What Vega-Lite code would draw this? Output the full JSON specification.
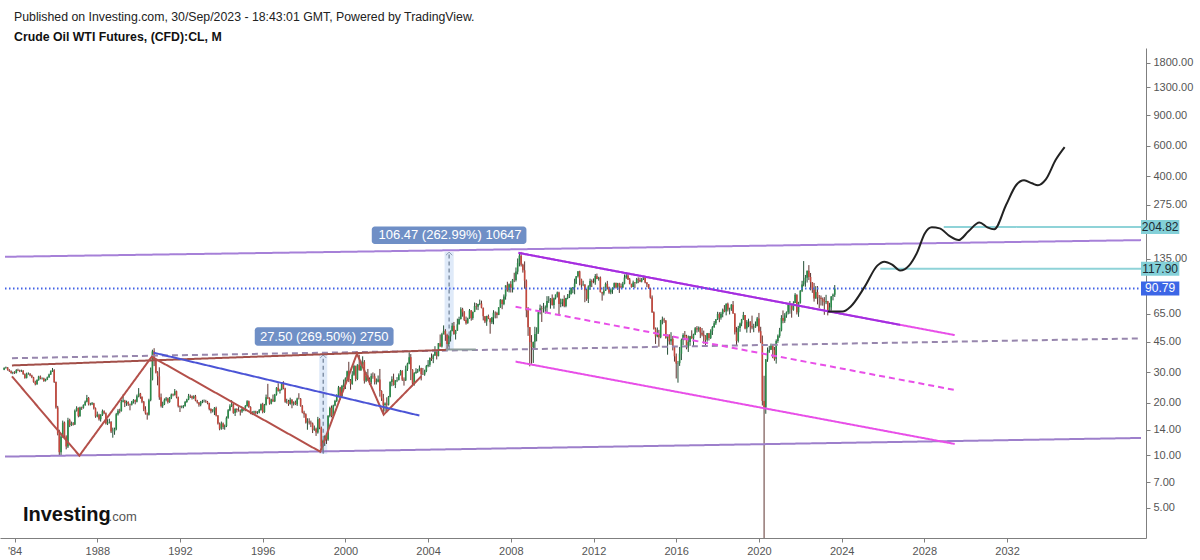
{
"$schema":"https://vega.github.io/schema/vega-lite/v6.json",
"width":1146,"height":490,
"autosize":{"type":"none"},
"padding":{"left":0,"top":48,"right":54,"bottom":22},
"background":"white",
"title":{"text":"Published on Investing.com, 30/Sep/2023 - 18:43:01 GMT, Powered by TradingView.","subtitle":"Crude Oil WTI Futures, (CFD):CL, M","anchor":"start","frame":"group","dx":14,"fontSize":12.3,"fontWeight":"normal","font":"Liberation Sans","color":"#222","subtitleFont":"Liberation Sans","subtitleFontSize":12.3,"subtitleFontWeight":"bold","subtitleColor":"#111","subtitlePadding":7,"offset":5},
"config":{"font":"Liberation Sans","view":{"stroke":null},"axis":{"title":null,"grid":false,"domainColor":"#7f7f7f","tickColor":"#7f7f7f","labelColor":"#555","labelFontSize":11,"tickSize":4}},
"datasets":{
"candles":[
{"d":"1983-07","o":31.0,"h":32.0,"l":30.8,"c":31.7},{"d":"1983-08","o":31.7,"h":32.3,"l":31.4,"c":31.9},{"d":"1983-09","o":31.9,"h":32.1,"l":30.6,"c":30.9},{"d":"1983-10","o":30.9,"h":31.2,"l":30.1,"c":30.4},{"d":"1983-11","o":30.4,"h":30.7,"l":29.4,"c":29.7},{"d":"1983-12","o":29.7,"h":30.2,"l":29.2,"c":29.9},
{"d":"1984-01","o":29.9,"h":30.4,"l":29.3,"c":29.7},{"d":"1984-02","o":29.7,"h":31.2,"l":29.5,"c":30.9},{"d":"1984-03","o":30.9,"h":31.4,"l":30.4,"c":30.7},{"d":"1984-04","o":30.7,"h":31.0,"l":30.0,"c":30.4},{"d":"1984-05","o":30.4,"h":31.0,"l":30.1,"c":30.6},{"d":"1984-06","o":30.6,"h":30.8,"l":29.0,"c":29.2},{"d":"1984-07","o":29.2,"h":29.5,"l":27.5,"c":27.8},{"d":"1984-08","o":27.8,"h":29.8,"l":27.6,"c":29.4},{"d":"1984-09","o":29.4,"h":29.9,"l":29.0,"c":29.4},{"d":"1984-10","o":29.4,"h":29.6,"l":28.4,"c":28.7},{"d":"1984-11","o":28.7,"h":29.0,"l":27.7,"c":28.0},{"d":"1984-12","o":28.0,"h":28.2,"l":26.1,"c":26.4},
{"d":"1985-01","o":26.4,"h":26.8,"l":25.2,"c":25.6},{"d":"1985-02","o":25.6,"h":27.3,"l":25.4,"c":27.0},{"d":"1985-03","o":27.0,"h":28.6,"l":26.8,"c":28.3},{"d":"1985-04","o":28.3,"h":28.7,"l":27.3,"c":27.6},{"d":"1985-05","o":27.6,"h":28.0,"l":27.2,"c":27.7},{"d":"1985-06","o":27.7,"h":27.9,"l":26.4,"c":26.7},{"d":"1985-07","o":26.7,"h":27.5,"l":26.5,"c":27.2},{"d":"1985-08","o":27.2,"h":28.3,"l":27.0,"c":28.0},{"d":"1985-09","o":28.0,"h":29.4,"l":27.8,"c":29.1},{"d":"1985-10","o":29.1,"h":30.7,"l":28.9,"c":30.4},{"d":"1985-11","o":30.4,"h":31.7,"l":30.1,"c":30.8},{"d":"1985-12","o":30.8,"h":31.2,"l":26.0,"c":26.3},
{"d":"1986-01","o":26.3,"h":26.5,"l":18.5,"c":18.8},{"d":"1986-02","o":18.8,"h":19.2,"l":13.0,"c":13.3},{"d":"1986-03","o":13.3,"h":14.0,"l":9.9,"c":10.4},{"d":"1986-04","o":10.4,"h":13.3,"l":10.0,"c":12.8},{"d":"1986-05","o":12.8,"h":15.8,"l":12.6,"c":15.4},{"d":"1986-06","o":15.4,"h":15.6,"l":12.5,"c":12.8},{"d":"1986-07","o":12.8,"h":13.0,"l":10.8,"c":11.2},{"d":"1986-08","o":11.2,"h":16.4,"l":11.0,"c":15.9},{"d":"1986-09","o":15.9,"h":16.2,"l":14.5,"c":14.9},{"d":"1986-10","o":14.9,"h":15.6,"l":14.7,"c":15.2},{"d":"1986-11","o":15.2,"h":15.5,"l":14.8,"c":15.0},{"d":"1986-12","o":15.0,"h":18.3,"l":14.9,"c":18.0},
{"d":"1987-01","o":18.0,"h":19.1,"l":17.8,"c":18.7},{"d":"1987-02","o":18.7,"h":18.8,"l":16.5,"c":16.8},{"d":"1987-03","o":16.8,"h":19.0,"l":16.6,"c":18.8},{"d":"1987-04","o":18.8,"h":19.0,"l":18.2,"c":18.7},{"d":"1987-05","o":18.7,"h":19.6,"l":18.5,"c":19.4},{"d":"1987-06","o":19.4,"h":20.6,"l":19.2,"c":20.3},{"d":"1987-07","o":20.3,"h":22.2,"l":20.1,"c":21.3},{"d":"1987-08","o":21.3,"h":21.6,"l":19.3,"c":19.6},{"d":"1987-09","o":19.6,"h":20.0,"l":19.3,"c":19.6},{"d":"1987-10","o":19.6,"h":20.2,"l":19.4,"c":19.9},{"d":"1987-11","o":19.9,"h":20.0,"l":18.3,"c":18.6},{"d":"1987-12","o":18.6,"h":18.8,"l":16.4,"c":16.7},
{"d":"1988-01","o":16.7,"h":17.8,"l":16.5,"c":17.1},{"d":"1988-02","o":17.1,"h":17.3,"l":15.8,"c":16.1},{"d":"1988-03","o":16.1,"h":17.2,"l":15.6,"c":17.0},{"d":"1988-04","o":17.0,"h":18.3,"l":16.8,"c":17.9},{"d":"1988-05","o":17.9,"h":18.1,"l":17.2,"c":17.4},{"d":"1988-06","o":17.4,"h":17.6,"l":15.0,"c":15.2},{"d":"1988-07","o":15.2,"h":16.1,"l":14.9,"c":15.5},{"d":"1988-08","o":15.5,"h":16.2,"l":15.2,"c":15.5},{"d":"1988-09","o":15.5,"h":15.7,"l":13.4,"c":13.7},{"d":"1988-10","o":13.7,"h":14.4,"l":12.6,"c":13.7},{"d":"1988-11","o":13.7,"h":14.4,"l":13.1,"c":14.1},{"d":"1988-12","o":14.1,"h":17.5,"l":13.9,"c":17.2},
{"d":"1989-01","o":17.2,"h":18.4,"l":16.9,"c":18.0},{"d":"1989-02","o":18.0,"h":18.5,"l":17.4,"c":17.9},{"d":"1989-03","o":17.9,"h":20.8,"l":17.8,"c":20.3},{"d":"1989-04","o":20.3,"h":22.3,"l":20.1,"c":20.6},{"d":"1989-05","o":20.6,"h":20.8,"l":18.9,"c":19.9},{"d":"1989-06","o":19.9,"h":20.6,"l":19.2,"c":20.2},{"d":"1989-07","o":20.2,"h":20.4,"l":19.2,"c":19.6},{"d":"1989-08","o":19.6,"h":19.8,"l":18.1,"c":19.5},{"d":"1989-09","o":19.5,"h":20.5,"l":19.3,"c":20.3},{"d":"1989-10","o":20.3,"h":21.0,"l":19.8,"c":20.7},{"d":"1989-11","o":20.7,"h":20.9,"l":19.6,"c":20.3},{"d":"1989-12","o":20.3,"h":22.3,"l":20.1,"c":21.8},
{"d":"1990-01","o":21.8,"h":24.3,"l":21.5,"c":22.6},{"d":"1990-02","o":22.6,"h":22.8,"l":21.1,"c":21.6},{"d":"1990-03","o":21.6,"h":21.8,"l":19.9,"c":20.3},{"d":"1990-04","o":20.3,"h":20.5,"l":17.9,"c":18.3},{"d":"1990-05","o":18.3,"h":19.1,"l":17.1,"c":17.4},{"d":"1990-06","o":17.4,"h":17.6,"l":16.0,"c":17.1},{"d":"1990-07","o":17.1,"h":21.1,"l":16.9,"c":20.7},{"d":"1990-08","o":20.7,"h":31.9,"l":20.4,"c":27.2},{"d":"1990-09","o":27.2,"h":40.4,"l":26.9,"c":39.5},{"d":"1990-10","o":39.5,"h":41.2,"l":32.5,"c":35.2},{"d":"1990-11","o":35.2,"h":35.6,"l":29.5,"c":29.9},{"d":"1990-12","o":29.9,"h":30.4,"l":25.2,"c":28.4},
{"d":"1991-01","o":28.4,"h":32.0,"l":20.8,"c":21.5},{"d":"1991-02","o":21.5,"h":22.6,"l":18.8,"c":19.2},{"d":"1991-03","o":19.2,"h":20.3,"l":18.7,"c":19.6},{"d":"1991-04","o":19.6,"h":21.2,"l":19.4,"c":20.8},{"d":"1991-05","o":20.8,"h":21.6,"l":20.4,"c":21.2},{"d":"1991-06","o":21.2,"h":21.4,"l":19.8,"c":20.2},{"d":"1991-07","o":20.2,"h":21.6,"l":20.0,"c":21.4},{"d":"1991-08","o":21.4,"h":22.6,"l":21.0,"c":22.3},{"d":"1991-09","o":22.3,"h":22.6,"l":21.8,"c":22.2},{"d":"1991-10","o":22.2,"h":24.0,"l":22.0,"c":23.3},{"d":"1991-11","o":23.3,"h":23.5,"l":21.2,"c":21.5},{"d":"1991-12","o":21.5,"h":21.7,"l":18.8,"c":19.1},
{"d":"1992-01","o":19.1,"h":19.3,"l":17.7,"c":18.9},{"d":"1992-02","o":18.9,"h":19.3,"l":18.6,"c":19.0},{"d":"1992-03","o":19.0,"h":19.4,"l":18.6,"c":19.2},{"d":"1992-04","o":19.2,"h":20.5,"l":19.0,"c":20.2},{"d":"1992-05","o":20.2,"h":21.1,"l":20.0,"c":20.9},{"d":"1992-06","o":20.9,"h":22.5,"l":20.7,"c":21.9},{"d":"1992-07","o":21.9,"h":22.3,"l":21.3,"c":21.8},{"d":"1992-08","o":21.8,"h":22.0,"l":20.9,"c":21.3},{"d":"1992-09","o":21.3,"h":22.1,"l":21.0,"c":21.8},{"d":"1992-10","o":21.8,"h":22.2,"l":20.4,"c":20.6},{"d":"1992-11","o":20.6,"h":20.8,"l":19.8,"c":20.1},{"d":"1992-12","o":20.1,"h":20.2,"l":19.0,"c":19.5},
{"d":"1993-01","o":19.5,"h":20.5,"l":19.1,"c":20.3},{"d":"1993-02","o":20.3,"h":20.8,"l":19.9,"c":20.4},{"d":"1993-03","o":20.4,"h":20.9,"l":20.1,"c":20.4},{"d":"1993-04","o":20.4,"h":20.8,"l":20.0,"c":20.3},{"d":"1993-05","o":20.3,"h":20.5,"l":19.6,"c":19.9},{"d":"1993-06","o":19.9,"h":20.0,"l":18.1,"c":18.4},{"d":"1993-07","o":18.4,"h":18.6,"l":17.4,"c":17.9},{"d":"1993-08","o":17.9,"h":18.4,"l":17.6,"c":18.0},{"d":"1993-09","o":18.0,"h":18.9,"l":17.0,"c":18.7},{"d":"1993-10","o":18.7,"h":19.0,"l":16.7,"c":16.9},{"d":"1993-11","o":16.9,"h":17.0,"l":15.0,"c":15.2},{"d":"1993-12","o":15.2,"h":15.4,"l":13.9,"c":14.2},
{"d":"1994-01","o":14.2,"h":15.6,"l":14.0,"c":15.2},{"d":"1994-02","o":15.2,"h":15.4,"l":14.1,"c":14.5},{"d":"1994-03","o":14.5,"h":15.0,"l":14.0,"c":14.7},{"d":"1994-04","o":14.7,"h":16.7,"l":14.5,"c":16.4},{"d":"1994-05","o":16.4,"h":18.4,"l":16.2,"c":18.1},{"d":"1994-06","o":18.1,"h":19.6,"l":17.9,"c":19.1},{"d":"1994-07","o":19.1,"h":20.7,"l":18.9,"c":19.6},{"d":"1994-08","o":19.6,"h":19.8,"l":17.3,"c":17.5},{"d":"1994-09","o":17.5,"h":18.6,"l":16.8,"c":18.4},{"d":"1994-10","o":18.4,"h":18.6,"l":17.6,"c":18.2},{"d":"1994-11","o":18.2,"h":18.9,"l":17.8,"c":18.1},{"d":"1994-12","o":18.1,"h":18.3,"l":16.9,"c":17.8},
{"d":"1995-01","o":17.8,"h":18.8,"l":17.5,"c":18.4},{"d":"1995-02","o":18.4,"h":18.7,"l":17.9,"c":18.5},{"d":"1995-03","o":18.5,"h":19.4,"l":17.9,"c":19.2},{"d":"1995-04","o":19.2,"h":20.7,"l":19.0,"c":20.4},{"d":"1995-05","o":20.4,"h":20.6,"l":18.7,"c":18.9},{"d":"1995-06","o":18.9,"h":19.1,"l":17.2,"c":17.4},{"d":"1995-07","o":17.4,"h":17.9,"l":17.0,"c":17.6},{"d":"1995-08","o":17.6,"h":18.0,"l":17.2,"c":17.8},{"d":"1995-09","o":17.8,"h":18.0,"l":17.2,"c":17.5},{"d":"1995-10","o":17.5,"h":17.9,"l":17.2,"c":17.6},{"d":"1995-11","o":17.6,"h":18.4,"l":17.4,"c":18.2},{"d":"1995-12","o":18.2,"h":19.8,"l":18.0,"c":19.6},
{"d":"1996-01","o":19.6,"h":20.0,"l":17.4,"c":17.7},{"d":"1996-02","o":17.7,"h":19.7,"l":17.5,"c":19.5},{"d":"1996-03","o":19.5,"h":22.3,"l":19.3,"c":21.5},{"d":"1996-04","o":21.5,"h":25.7,"l":21.0,"c":21.2},{"d":"1996-05","o":21.2,"h":21.5,"l":19.5,"c":19.8},{"d":"1996-06","o":19.8,"h":21.1,"l":19.6,"c":20.9},{"d":"1996-07","o":20.9,"h":22.3,"l":20.2,"c":20.4},{"d":"1996-08","o":20.4,"h":22.5,"l":20.2,"c":22.3},{"d":"1996-09","o":22.3,"h":24.6,"l":22.0,"c":24.4},{"d":"1996-10","o":24.4,"h":25.9,"l":23.2,"c":23.4},{"d":"1996-11","o":23.4,"h":24.1,"l":22.6,"c":23.8},{"d":"1996-12","o":23.8,"h":26.1,"l":23.6,"c":25.9},
{"d":"1997-01","o":25.9,"h":26.6,"l":23.9,"c":24.2},{"d":"1997-02","o":24.2,"h":24.4,"l":20.0,"c":20.3},{"d":"1997-03","o":20.3,"h":21.1,"l":19.8,"c":20.4},{"d":"1997-04","o":20.4,"h":20.8,"l":19.2,"c":19.7},{"d":"1997-05","o":19.7,"h":21.4,"l":19.5,"c":20.8},{"d":"1997-06","o":20.8,"h":21.0,"l":18.6,"c":19.8},{"d":"1997-07","o":19.8,"h":20.4,"l":19.3,"c":20.1},{"d":"1997-08","o":20.1,"h":20.6,"l":19.4,"c":19.6},{"d":"1997-09","o":19.6,"h":21.4,"l":19.2,"c":21.2},{"d":"1997-10","o":21.2,"h":22.7,"l":20.9,"c":21.1},{"d":"1997-11","o":21.1,"h":21.3,"l":19.0,"c":19.2},{"d":"1997-12","o":19.2,"h":19.4,"l":17.4,"c":17.6},
{"d":"1998-01","o":17.6,"h":18.0,"l":16.4,"c":17.2},{"d":"1998-02","o":17.2,"h":17.4,"l":15.2,"c":15.4},{"d":"1998-03","o":15.4,"h":16.3,"l":14.0,"c":15.6},{"d":"1998-04","o":15.6,"h":16.3,"l":15.0,"c":15.4},{"d":"1998-05","o":15.4,"h":15.8,"l":14.5,"c":15.2},{"d":"1998-06","o":15.2,"h":15.4,"l":13.4,"c":14.0},{"d":"1998-07","o":14.0,"h":14.8,"l":13.8,"c":14.2},{"d":"1998-08","o":14.2,"h":14.4,"l":12.9,"c":13.5},{"d":"1998-09","o":13.5,"h":16.6,"l":13.3,"c":16.1},{"d":"1998-10","o":16.1,"h":16.3,"l":14.1,"c":14.4},{"d":"1998-11","o":14.4,"h":14.6,"l":10.9,"c":11.2},{"d":"1998-12","o":11.2,"h":12.3,"l":10.4,"c":12.1},
{"d":"1999-01","o":12.1,"h":13.0,"l":11.3,"c":12.8},{"d":"1999-02","o":12.8,"h":12.9,"l":11.6,"c":12.3},{"d":"1999-03","o":12.3,"h":17.0,"l":12.1,"c":16.8},{"d":"1999-04","o":16.8,"h":19.0,"l":16.5,"c":18.7},{"d":"1999-05","o":18.7,"h":19.3,"l":16.5,"c":16.8},{"d":"1999-06","o":16.8,"h":19.5,"l":16.6,"c":19.3},{"d":"1999-07","o":19.3,"h":20.8,"l":19.1,"c":20.5},{"d":"1999-08","o":20.5,"h":22.4,"l":20.2,"c":22.1},{"d":"1999-09","o":22.1,"h":25.0,"l":21.9,"c":24.5},{"d":"1999-10","o":24.5,"h":24.7,"l":20.8,"c":21.8},{"d":"1999-11","o":21.8,"h":25.3,"l":21.6,"c":25.0},{"d":"1999-12","o":25.0,"h":27.2,"l":24.6,"c":25.6},
{"d":"2000-01","o":25.6,"h":28.0,"l":24.0,"c":27.6},{"d":"2000-02","o":27.6,"h":30.6,"l":27.4,"c":30.4},{"d":"2000-03","o":30.4,"h":34.4,"l":26.3,"c":26.9},{"d":"2000-04","o":26.9,"h":27.4,"l":23.8,"c":25.7},{"d":"2000-05","o":25.7,"h":30.4,"l":25.4,"c":29.0},{"d":"2000-06","o":29.0,"h":33.1,"l":28.6,"c":32.5},{"d":"2000-07","o":32.5,"h":32.7,"l":26.6,"c":27.4},{"d":"2000-08","o":27.4,"h":33.3,"l":27.0,"c":33.1},{"d":"2000-09","o":33.1,"h":37.8,"l":30.6,"c":30.8},{"d":"2000-10","o":30.8,"h":35.0,"l":30.5,"c":32.7},{"d":"2000-11","o":32.7,"h":37.0,"l":32.4,"c":34.4},{"d":"2000-12","o":34.4,"h":35.2,"l":25.8,"c":26.8},
{"d":"2001-01","o":26.8,"h":30.1,"l":26.3,"c":28.7},{"d":"2001-02","o":28.7,"h":31.3,"l":26.7,"c":27.4},{"d":"2001-03","o":27.4,"h":28.0,"l":25.4,"c":26.3},{"d":"2001-04","o":26.3,"h":29.5,"l":25.5,"c":28.5},{"d":"2001-05","o":28.5,"h":29.9,"l":27.5,"c":28.4},{"d":"2001-06","o":28.4,"h":29.5,"l":25.5,"c":26.3},{"d":"2001-07","o":26.3,"h":27.6,"l":25.5,"c":26.4},{"d":"2001-08","o":26.4,"h":28.7,"l":26.2,"c":27.2},{"d":"2001-09","o":27.2,"h":31.3,"l":21.7,"c":23.4},{"d":"2001-10","o":23.4,"h":23.6,"l":20.5,"c":21.2},{"d":"2001-11","o":21.2,"h":22.5,"l":17.5,"c":19.4},{"d":"2001-12","o":19.4,"h":20.1,"l":17.8,"c":19.8},
{"d":"2002-01","o":19.8,"h":21.5,"l":17.9,"c":19.5},{"d":"2002-02","o":19.5,"h":21.9,"l":19.3,"c":21.7},{"d":"2002-03","o":21.7,"h":26.6,"l":21.5,"c":26.3},{"d":"2002-04","o":26.3,"h":28.4,"l":24.9,"c":27.3},{"d":"2002-05","o":27.3,"h":29.4,"l":25.1,"c":25.3},{"d":"2002-06","o":25.3,"h":27.0,"l":24.3,"c":26.9},{"d":"2002-07","o":26.9,"h":28.1,"l":26.3,"c":27.0},{"d":"2002-08","o":27.0,"h":29.5,"l":26.9,"c":28.9},{"d":"2002-09","o":28.9,"h":30.9,"l":28.7,"c":30.5},{"d":"2002-10","o":30.5,"h":30.8,"l":26.7,"c":27.2},{"d":"2002-11","o":27.2,"h":28.0,"l":25.1,"c":26.9},{"d":"2002-12","o":26.9,"h":32.7,"l":26.7,"c":31.2},
{"d":"2003-01","o":31.2,"h":34.0,"l":30.5,"c":33.5},{"d":"2003-02","o":33.5,"h":39.0,"l":33.3,"c":36.6},{"d":"2003-03","o":36.6,"h":38.1,"l":27.0,"c":31.0},{"d":"2003-04","o":31.0,"h":31.2,"l":24.9,"c":25.8},{"d":"2003-05","o":25.8,"h":30.0,"l":25.1,"c":29.6},{"d":"2003-06","o":29.6,"h":31.6,"l":29.4,"c":30.2},{"d":"2003-07","o":30.2,"h":31.3,"l":29.7,"c":30.5},{"d":"2003-08","o":30.5,"h":32.8,"l":30.3,"c":31.6},{"d":"2003-09","o":31.6,"h":31.8,"l":26.9,"c":29.2},{"d":"2003-10","o":29.2,"h":31.7,"l":28.9,"c":29.1},{"d":"2003-11","o":29.1,"h":31.0,"l":28.6,"c":30.4},{"d":"2003-12","o":30.4,"h":33.0,"l":30.0,"c":32.5},
{"d":"2004-01","o":32.5,"h":35.2,"l":32.0,"c":33.1},{"d":"2004-02","o":33.1,"h":36.5,"l":32.2,"c":36.2},{"d":"2004-03","o":36.2,"h":38.4,"l":34.8,"c":35.8},{"d":"2004-04","o":35.8,"h":38.0,"l":33.8,"c":37.4},{"d":"2004-05","o":37.4,"h":42.3,"l":37.2,"c":39.9},{"d":"2004-06","o":39.9,"h":40.0,"l":35.5,"c":37.1},{"d":"2004-07","o":37.1,"h":44.1,"l":37.0,"c":44.0},{"d":"2004-08","o":44.0,"h":49.4,"l":42.0,"c":42.1},{"d":"2004-09","o":42.1,"h":50.5,"l":41.6,"c":49.6},{"d":"2004-10","o":49.6,"h":55.7,"l":49.4,"c":51.8},{"d":"2004-11","o":51.8,"h":53.0,"l":45.4,"c":49.1},{"d":"2004-12","o":49.1,"h":49.9,"l":40.3,"c":43.5},
{"d":"2005-01","o":43.5,"h":49.0,"l":42.1,"c":48.2},{"d":"2005-02","o":48.2,"h":52.1,"l":45.0,"c":51.8},{"d":"2005-03","o":51.8,"h":57.6,"l":51.5,"c":55.4},{"d":"2005-04","o":55.4,"h":58.3,"l":49.2,"c":49.7},{"d":"2005-05","o":49.7,"h":52.5,"l":46.2,"c":52.0},{"d":"2005-06","o":52.0,"h":60.9,"l":51.8,"c":56.5},{"d":"2005-07","o":56.5,"h":62.5,"l":56.3,"c":60.6},{"d":"2005-08","o":60.6,"h":70.8,"l":60.2,"c":68.9},{"d":"2005-09","o":68.9,"h":70.3,"l":62.5,"c":66.2},{"d":"2005-10","o":66.2,"h":67.3,"l":59.0,"c":59.8},{"d":"2005-11","o":59.8,"h":62.6,"l":56.3,"c":57.3},{"d":"2005-12","o":57.3,"h":61.7,"l":57.0,"c":61.0},
{"d":"2006-01","o":61.0,"h":69.2,"l":60.8,"c":67.9},{"d":"2006-02","o":67.9,"h":68.3,"l":59.3,"c":61.4},{"d":"2006-03","o":61.4,"h":67.0,"l":60.0,"c":66.6},{"d":"2006-04","o":66.6,"h":75.4,"l":66.4,"c":71.9},{"d":"2006-05","o":71.9,"h":74.9,"l":68.5,"c":71.3},{"d":"2006-06","o":71.3,"h":74.2,"l":68.2,"c":73.9},{"d":"2006-07","o":73.9,"h":78.4,"l":72.8,"c":74.4},{"d":"2006-08","o":74.4,"h":77.3,"l":69.8,"c":70.3},{"d":"2006-09","o":70.3,"h":70.5,"l":59.5,"c":62.9},{"d":"2006-10","o":62.9,"h":63.0,"l":57.4,"c":58.7},{"d":"2006-11","o":58.7,"h":63.3,"l":55.4,"c":63.1},{"d":"2006-12","o":63.1,"h":64.3,"l":60.5,"c":61.1},
{"d":"2007-01","o":61.1,"h":61.3,"l":49.9,"c":58.1},{"d":"2007-02","o":58.1,"h":62.3,"l":56.8,"c":61.8},{"d":"2007-03","o":61.8,"h":68.1,"l":56.5,"c":65.9},{"d":"2007-04","o":65.9,"h":67.0,"l":61.1,"c":65.7},{"d":"2007-05","o":65.7,"h":66.7,"l":61.2,"c":64.0},{"d":"2007-06","o":64.0,"h":70.9,"l":63.8,"c":70.7},{"d":"2007-07","o":70.7,"h":78.8,"l":70.3,"c":78.2},{"d":"2007-08","o":78.2,"h":78.5,"l":69.0,"c":74.0},{"d":"2007-09","o":74.0,"h":83.9,"l":72.8,"c":81.7},{"d":"2007-10","o":81.7,"h":94.7,"l":78.3,"c":94.5},{"d":"2007-11","o":94.5,"h":99.3,"l":87.0,"c":88.7},{"d":"2007-12","o":88.7,"h":97.0,"l":86.2,"c":96.0},
{"d":"2008-01","o":96.0,"h":100.1,"l":86.1,"c":91.8},{"d":"2008-02","o":91.8,"h":103.0,"l":86.1,"c":101.8},{"d":"2008-03","o":101.8,"h":111.8,"l":98.7,"c":101.6},{"d":"2008-04","o":101.6,"h":119.9,"l":99.6,"c":113.5},{"d":"2008-05","o":113.5,"h":135.1,"l":109.5,"c":127.4},{"d":"2008-06","o":127.4,"h":143.7,"l":121.6,"c":140.0},{"d":"2008-07","o":140.0,"h":147.3,"l":121.4,"c":124.1},{"d":"2008-08","o":124.1,"h":126.0,"l":112.0,"c":115.5},{"d":"2008-09","o":115.5,"h":130.0,"l":90.5,"c":100.6},{"d":"2008-10","o":100.6,"h":102.2,"l":62.0,"c":67.8},{"d":"2008-11","o":67.8,"h":71.0,"l":48.5,"c":54.4},{"d":"2008-12","o":54.4,"h":54.5,"l":32.4,"c":44.6},
{"d":"2009-01","o":44.6,"h":49.0,"l":33.5,"c":41.7},{"d":"2009-02","o":41.7,"h":44.9,"l":33.9,"c":44.8},{"d":"2009-03","o":44.8,"h":54.7,"l":40.7,"c":49.7},{"d":"2009-04","o":49.7,"h":54.3,"l":45.1,"c":51.1},{"d":"2009-05","o":51.1,"h":66.5,"l":49.8,"c":66.3},{"d":"2009-06","o":66.3,"h":73.4,"l":64.5,"c":69.9},{"d":"2009-07","o":69.9,"h":72.2,"l":58.3,"c":69.5},{"d":"2009-08","o":69.5,"h":75.0,"l":66.0,"c":70.0},{"d":"2009-09","o":70.0,"h":72.5,"l":65.1,"c":70.6},{"d":"2009-10","o":70.6,"h":82.0,"l":66.5,"c":77.0},{"d":"2009-11","o":77.0,"h":82.0,"l":75.0,"c":77.3},{"d":"2009-12","o":77.3,"h":80.0,"l":69.5,"c":79.4},
{"d":"2010-01","o":79.4,"h":83.9,"l":72.4,"c":72.9},{"d":"2010-02","o":72.9,"h":80.5,"l":69.5,"c":79.7},{"d":"2010-03","o":79.7,"h":83.8,"l":78.5,"c":83.8},{"d":"2010-04","o":83.8,"h":87.2,"l":80.6,"c":86.2},{"d":"2010-05","o":86.2,"h":87.0,"l":64.2,"c":74.0},{"d":"2010-06","o":74.0,"h":79.4,"l":70.8,"c":75.6},{"d":"2010-07","o":75.6,"h":79.3,"l":71.7,"c":79.0},{"d":"2010-08","o":79.0,"h":82.9,"l":70.8,"c":71.9},{"d":"2010-09","o":71.9,"h":80.2,"l":70.8,"c":80.0},{"d":"2010-10","o":80.0,"h":84.4,"l":78.7,"c":81.4},{"d":"2010-11","o":81.4,"h":88.6,"l":80.0,"c":84.1},{"d":"2010-12","o":84.1,"h":92.1,"l":83.9,"c":91.4},
{"d":"2011-01","o":91.4,"h":92.6,"l":85.2,"c":92.2},{"d":"2011-02","o":92.2,"h":103.4,"l":84.1,"c":97.0},{"d":"2011-03","o":97.0,"h":107.0,"l":96.3,"c":106.7},{"d":"2011-04","o":106.7,"h":114.0,"l":105.0,"c":113.9},{"d":"2011-05","o":113.9,"h":114.8,"l":94.6,"c":102.7},{"d":"2011-06","o":102.7,"h":103.4,"l":89.6,"c":95.4},{"d":"2011-07","o":95.4,"h":100.6,"l":93.6,"c":95.7},{"d":"2011-08","o":95.7,"h":96.0,"l":75.7,"c":88.8},{"d":"2011-09","o":88.8,"h":90.5,"l":77.1,"c":79.2},{"d":"2011-10","o":79.2,"h":94.7,"l":74.9,"c":93.2},{"d":"2011-11","o":93.2,"h":103.4,"l":89.2,"c":100.4},{"d":"2011-12","o":100.4,"h":102.4,"l":92.5,"c":98.8},
{"d":"2012-01","o":98.8,"h":103.7,"l":97.3,"c":98.5},{"d":"2012-02","o":98.5,"h":109.9,"l":95.4,"c":107.1},{"d":"2012-03","o":107.1,"h":110.6,"l":102.7,"c":103.0},{"d":"2012-04","o":103.0,"h":106.0,"l":100.7,"c":104.9},{"d":"2012-05","o":104.9,"h":106.4,"l":86.2,"c":86.5},{"d":"2012-06","o":86.5,"h":86.9,"l":77.3,"c":85.0},{"d":"2012-07","o":85.0,"h":92.9,"l":82.8,"c":88.1},{"d":"2012-08","o":88.1,"h":98.3,"l":87.9,"c":96.5},{"d":"2012-09","o":96.5,"h":100.4,"l":89.6,"c":92.2},{"d":"2012-10","o":92.2,"h":93.0,"l":84.6,"c":86.2},{"d":"2012-11","o":86.2,"h":90.6,"l":84.1,"c":88.9},{"d":"2012-12","o":88.9,"h":92.1,"l":84.6,"c":91.8},
{"d":"2013-01","o":91.8,"h":98.2,"l":91.3,"c":97.5},{"d":"2013-02","o":97.5,"h":98.2,"l":90.7,"c":92.1},{"d":"2013-03","o":92.1,"h":97.8,"l":89.3,"c":97.2},{"d":"2013-04","o":97.2,"h":97.9,"l":85.6,"c":93.5},{"d":"2013-05","o":93.5,"h":97.0,"l":90.9,"c":92.0},{"d":"2013-06","o":92.0,"h":99.1,"l":91.1,"c":96.6},{"d":"2013-07","o":96.6,"h":109.3,"l":95.9,"c":105.0},{"d":"2013-08","o":105.0,"h":112.2,"l":103.2,"c":107.7},{"d":"2013-09","o":107.7,"h":110.7,"l":101.7,"c":102.3},{"d":"2013-10","o":102.3,"h":104.4,"l":95.9,"c":96.4},{"d":"2013-11","o":96.4,"h":96.7,"l":91.8,"c":92.7},{"d":"2013-12","o":92.7,"h":100.8,"l":92.4,"c":98.4},
{"d":"2014-01","o":98.4,"h":98.9,"l":91.2,"c":97.5},{"d":"2014-02","o":97.5,"h":104.4,"l":96.9,"c":102.6},{"d":"2014-03","o":102.6,"h":105.2,"l":97.4,"c":101.6},{"d":"2014-04","o":101.6,"h":104.9,"l":98.7,"c":99.7},{"d":"2014-05","o":99.7,"h":104.3,"l":98.4,"c":102.7},{"d":"2014-06","o":102.7,"h":107.7,"l":101.6,"c":105.4},{"d":"2014-07","o":105.4,"h":105.7,"l":97.2,"c":98.2},{"d":"2014-08","o":98.2,"h":98.7,"l":92.5,"c":96.0},{"d":"2014-09","o":96.0,"h":96.2,"l":90.4,"c":91.2},{"d":"2014-10","o":91.2,"h":91.6,"l":79.4,"c":80.5},{"d":"2014-11","o":80.5,"h":82.8,"l":65.7,"c":66.2},{"d":"2014-12","o":66.2,"h":67.0,"l":52.7,"c":53.3},
{"d":"2015-01","o":53.3,"h":54.2,"l":43.6,"c":48.2},{"d":"2015-02","o":48.2,"h":54.2,"l":47.6,"c":49.8},{"d":"2015-03","o":49.8,"h":52.5,"l":42.0,"c":47.6},{"d":"2015-04","o":47.6,"h":59.9,"l":47.0,"c":59.6},{"d":"2015-05","o":59.6,"h":62.6,"l":56.5,"c":60.3},{"d":"2015-06","o":60.3,"h":61.6,"l":57.6,"c":59.5},{"d":"2015-07","o":59.5,"h":59.7,"l":46.7,"c":47.1},{"d":"2015-08","o":47.1,"h":49.3,"l":37.8,"c":49.2},{"d":"2015-09","o":49.2,"h":49.5,"l":43.2,"c":45.1},{"d":"2015-10","o":45.1,"h":50.9,"l":43.0,"c":46.6},{"d":"2015-11","o":46.6,"h":48.4,"l":40.0,"c":41.7},{"d":"2015-12","o":41.7,"h":42.0,"l":34.5,"c":37.0},
{"d":"2016-01","o":37.0,"h":38.4,"l":27.6,"c":33.6},{"d":"2016-02","o":33.6,"h":34.8,"l":26.1,"c":33.8},{"d":"2016-03","o":33.8,"h":41.9,"l":32.6,"c":38.3},{"d":"2016-04","o":38.3,"h":46.8,"l":35.2,"c":45.9},{"d":"2016-05","o":45.9,"h":50.2,"l":43.0,"c":49.1},{"d":"2016-06","o":49.1,"h":51.7,"l":45.8,"c":48.3},{"d":"2016-07","o":48.3,"h":49.2,"l":40.6,"c":41.6},{"d":"2016-08","o":41.6,"h":48.7,"l":39.2,"c":44.7},{"d":"2016-09","o":44.7,"h":48.5,"l":42.5,"c":48.2},{"d":"2016-10","o":48.2,"h":52.2,"l":46.7,"c":46.9},{"d":"2016-11","o":46.9,"h":49.9,"l":42.2,"c":49.4},{"d":"2016-12","o":49.4,"h":54.5,"l":49.0,"c":53.7},
{"d":"2017-01","o":53.7,"h":55.2,"l":50.7,"c":52.8},{"d":"2017-02","o":52.8,"h":54.9,"l":51.2,"c":54.0},{"d":"2017-03","o":54.0,"h":54.6,"l":47.1,"c":50.6},{"d":"2017-04","o":50.6,"h":53.8,"l":48.2,"c":49.3},{"d":"2017-05","o":49.3,"h":52.0,"l":43.8,"c":48.3},{"d":"2017-06","o":48.3,"h":48.9,"l":42.1,"c":46.0},{"d":"2017-07","o":46.0,"h":50.4,"l":44.9,"c":50.2},{"d":"2017-08","o":50.2,"h":50.4,"l":45.6,"c":47.2},{"d":"2017-09","o":47.2,"h":52.9,"l":46.5,"c":51.7},{"d":"2017-10","o":51.7,"h":55.2,"l":49.1,"c":54.4},{"d":"2017-11","o":54.4,"h":59.0,"l":54.0,"c":57.4},{"d":"2017-12","o":57.4,"h":60.5,"l":56.1,"c":60.4},
{"d":"2018-01","o":60.4,"h":66.7,"l":59.8,"c":64.7},{"d":"2018-02","o":64.7,"h":66.3,"l":58.1,"c":61.6},{"d":"2018-03","o":61.6,"h":66.6,"l":60.1,"c":64.9},{"d":"2018-04","o":64.9,"h":69.6,"l":62.0,"c":68.6},{"d":"2018-05","o":68.6,"h":72.9,"l":66.3,"c":67.0},{"d":"2018-06","o":67.0,"h":74.5,"l":63.6,"c":74.2},{"d":"2018-07","o":74.2,"h":75.3,"l":67.0,"c":68.8},{"d":"2018-08","o":68.8,"h":70.4,"l":64.4,"c":69.8},{"d":"2018-09","o":69.8,"h":73.8,"l":67.5,"c":73.3},{"d":"2018-10","o":73.3,"h":76.9,"l":64.9,"c":65.3},{"d":"2018-11","o":65.3,"h":65.4,"l":49.4,"c":50.9},{"d":"2018-12","o":50.9,"h":54.6,"l":42.4,"c":45.4},
{"d":"2019-01","o":45.4,"h":55.4,"l":44.4,"c":53.8},{"d":"2019-02","o":53.8,"h":57.8,"l":51.2,"c":57.2},{"d":"2019-03","o":57.2,"h":60.7,"l":55.1,"c":60.1},{"d":"2019-04","o":60.1,"h":66.6,"l":60.0,"c":63.9},{"d":"2019-05","o":63.9,"h":63.9,"l":52.9,"c":53.5},{"d":"2019-06","o":53.5,"h":59.8,"l":50.6,"c":58.5},{"d":"2019-07","o":58.5,"h":60.9,"l":54.4,"c":58.6},{"d":"2019-08","o":58.6,"h":58.8,"l":50.5,"c":55.1},{"d":"2019-09","o":55.1,"h":63.4,"l":52.9,"c":54.1},{"d":"2019-10","o":54.1,"h":56.9,"l":50.9,"c":54.2},{"d":"2019-11","o":54.2,"h":58.7,"l":54.0,"c":55.2},{"d":"2019-12","o":55.2,"h":62.3,"l":55.0,"c":61.1},
{"d":"2020-01","o":61.1,"h":65.7,"l":50.6,"c":51.6},{"d":"2020-02","o":51.6,"h":54.7,"l":44.0,"c":44.8},{"d":"2020-03","o":44.8,"h":48.7,"l":19.3,"c":20.5},{"d":"2020-04","o":20.5,"h":28.6,"l":1.0,"c":18.8},{"d":"2020-05","o":18.8,"h":35.7,"l":17.3,"c":35.5},{"d":"2020-06","o":35.5,"h":41.6,"l":34.4,"c":39.3},{"d":"2020-07","o":39.3,"h":42.5,"l":38.7,"c":40.3},{"d":"2020-08","o":40.3,"h":43.8,"l":40.2,"c":42.6},{"d":"2020-09","o":42.6,"h":43.4,"l":36.1,"c":40.2},{"d":"2020-10","o":40.2,"h":41.9,"l":34.9,"c":35.8},{"d":"2020-11","o":35.8,"h":46.3,"l":33.6,"c":45.3},{"d":"2020-12","o":45.3,"h":49.4,"l":44.2,"c":48.5},
{"d":"2021-01","o":48.5,"h":53.9,"l":47.3,"c":52.2},{"d":"2021-02","o":52.2,"h":63.8,"l":51.5,"c":61.5},{"d":"2021-03","o":61.5,"h":67.9,"l":57.3,"c":59.2},{"d":"2021-04","o":59.2,"h":65.5,"l":57.6,"c":63.6},{"d":"2021-05","o":63.6,"h":67.0,"l":61.6,"c":66.3},{"d":"2021-06","o":66.3,"h":74.4,"l":64.5,"c":73.5},{"d":"2021-07","o":73.5,"h":76.9,"l":65.0,"c":74.0},{"d":"2021-08","o":74.0,"h":74.2,"l":61.7,"c":68.5},{"d":"2021-09","o":68.5,"h":76.7,"l":67.6,"c":75.0},{"d":"2021-10","o":75.0,"h":85.4,"l":74.9,"c":83.6},{"d":"2021-11","o":83.6,"h":84.0,"l":64.4,"c":66.2},{"d":"2021-12","o":66.2,"h":76.1,"l":62.4,"c":75.2},
{"d":"2022-01","o":75.2,"h":88.8,"l":74.3,"c":88.2},{"d":"2022-02","o":88.2,"h":100.5,"l":86.6,"c":95.7},{"d":"2022-03","o":95.7,"h":130.5,"l":93.5,"c":100.3},{"d":"2022-04","o":100.3,"h":108.6,"l":92.9,"c":104.7},{"d":"2022-05","o":104.7,"h":115.1,"l":98.2,"c":114.7},{"d":"2022-06","o":114.7,"h":123.7,"l":101.5,"c":105.8},{"d":"2022-07","o":105.8,"h":111.5,"l":88.6,"c":98.6},{"d":"2022-08","o":98.6,"h":98.9,"l":85.7,"c":89.6},{"d":"2022-09","o":89.6,"h":97.7,"l":76.3,"c":79.5},{"d":"2022-10","o":79.5,"h":93.6,"l":79.3,"c":86.5},{"d":"2022-11","o":86.5,"h":93.7,"l":73.6,"c":80.6},{"d":"2022-12","o":80.6,"h":83.3,"l":70.1,"c":80.3},
{"d":"2023-01","o":80.3,"h":82.7,"l":72.5,"c":78.9},{"d":"2023-02","o":78.9,"h":80.6,"l":72.3,"c":77.1},{"d":"2023-03","o":77.1,"h":81.0,"l":64.1,"c":75.7},{"d":"2023-04","o":75.7,"h":83.5,"l":73.8,"c":76.8},{"d":"2023-05","o":76.8,"h":77.0,"l":63.6,"c":68.1},{"d":"2023-06","o":68.1,"h":75.1,"l":66.8,"c":70.6},{"d":"2023-07","o":70.6,"h":82.0,"l":67.8,"c":81.8},{"d":"2023-08","o":81.8,"h":84.9,"l":77.6,"c":83.6},{"d":"2023-09","o":83.6,"h":95.0,"l":81.2,"c":90.8}
],
"segs":[
{"g":"top","d":"1983-07-16","v":138.1},{"g":"top","d":"2038-06-24","v":172.2},
{"g":"bot","d":"1983-07-16","v":9.81},{"g":"bot","d":"2038-06-24","v":12.56},
{"g":"dash","d":"1983-11-16","v":36.1},{"g":"dash","d":"2038-06-24","v":46.9},
{"g":"brown","d":"1983-11-16","v":32.8},{"g":"brown","d":"2004-11-14","v":40.3},
{"g":"zig","d":"1983-11-16","v":28.4},{"g":"zig","d":"1987-02-19","v":9.94},{"g":"zig","d":"1990-08-20","v":36.8},{"g":"zig","d":"1998-10-13","v":10.47},{"g":"zig","d":"2000-07-23","v":38.3},{"g":"zig","d":"2001-11-07","v":17.1},{"g":"zig","d":"2003-09-03","v":28.4},
{"g":"blue","d":"1990-09-24","v":38.8},{"g":"blue","d":"2003-07-31","v":16.9},
{"g":"magl","d":"2008-03-25","v":34.5},{"g":"magl","d":"2029-06-20","v":11.6},
{"g":"magd","d":"2008-03-25","v":71.3},{"g":"magd","d":"2029-06-20","v":23.7},
{"g":"mag","d":"2008-05-16","v":145.5},{"g":"mag","d":"2029-06-20","v":49.0},
{"g":"purp","d":"2008-05-16","v":145.5},{"g":"purp","d":"2026-10-29","v":56.1},
{"g":"teal1","d":"2028-12-09","v":204.82},{"g":"teal1","d":"2038-06-24","v":204.82},
{"g":"teal2","d":"2025-11-14","v":117.9},{"g":"teal2","d":"2038-06-24","v":117.9},
{"g":"dot","d":"1983-07-16","v":90.79},{"g":"dot","d":"2038-06-24","v":90.79},
{"g":"base","d":"2004-11-14","v":40.5},{"g":"base","d":"2006-04-23","v":40.5}
],
"curve":[
{"d":"2023-05-01","v":66.85},{"d":"2024-01-18","v":66.85},{"d":"2024-06-06","v":71.3},{"d":"2025-02-07","v":92.4},{"d":"2025-09-22","v":122.9},{"d":"2026-01-24","v":129.5},{"d":"2026-06-11","v":124.6},{"d":"2026-10-29","v":115.2},{"d":"2027-04-05","v":122.9},{"d":"2027-08-23","v":145.5},{"d":"2028-01-11","v":188.6},{"d":"2028-05-12","v":203.9},{"d":"2028-09-29","v":201.2},{"d":"2029-03-24","v":181.4},{"d":"2029-08-28","v":172.2},{"d":"2030-02-19","v":193.6},{"d":"2030-08-31","v":217.5},{"d":"2031-01-18","v":203.9},{"d":"2031-05-20","v":198.7},{"d":"2031-12-16","v":274.8},{"d":"2032-06-08","v":356.0},{"d":"2032-10-27","v":379.8},{"d":"2033-03-16","v":365.3},{"d":"2033-06-29","v":356.0},{"d":"2033-11-16","v":384.8},{"d":"2034-05-10","v":498.9},{"d":"2034-10-14","v":590.3}
],
"meas":[
{"d":"1998-12-05","a":"1998-09-26","b":"1999-02-14","v1":10.2,"v2":37.7,"ba":"1995-08-14","bb":"2002-05-01","blo":42.5,"bhi":54.3,"bm":"1998-12-23","bv":48.0,"t":"27.50 (269.50%) 2750"},
{"d":"2005-01-06","a":"2004-10-18","b":"2005-03-28","v1":40.48,"v2":146.95,"ba":"2001-04-11","bb":"2008-10-03","blo":163.6,"bhi":206.5,"bm":"2005-01-22","bv":183.8,"t":"106.47 (262.99%) 10647"}
],
"prices":[{"v":204.82,"k":"t"},{"v":117.9,"k":"t"},{"v":90.79,"k":"b"}]
},
"layer":[
{"data":{"name":"meas"},"mark":{"type":"rect","color":"#dce8f8","opacity":0.9},
 "encoding":{"x":{"field":"a","type":"temporal"},"x2":{"field":"b"},"y":{"field":"v1","type":"quantitative"},"y2":{"field":"v2"}}},
{"data":{"name":"candles"},"mark":{"type":"rule","strokeWidth":1,"clip":true},
 "encoding":{
  "x":{"field":"d","type":"temporal","scale":{"type":"utc","nice":false,"domain":[{"year":1983,"month":7,"date":16,"utc":true},{"year":2038,"month":6,"date":24,"utc":true}]},
   "axis":{"values":[{"year":1984,"utc":true},{"year":1988,"utc":true},{"year":1992,"utc":true},{"year":1996,"utc":true},{"year":2000,"utc":true},{"year":2004,"utc":true},{"year":2008,"utc":true},{"year":2012,"utc":true},{"year":2016,"utc":true},{"year":2020,"utc":true},{"year":2024,"utc":true},{"year":2028,"utc":true},{"year":2032,"utc":true}],
   "labelExpr":"utcyear(datum.value) == 1984 ? \"'84\" : utcFormat(datum.value, '%Y')","labelPadding":3,"labelFlush":false}},
  "y":{"field":"l","type":"quantitative","scale":{"type":"log","nice":false,"domain":[3.57,2049]},
   "axis":{"orient":"right","values":[5,7,10,14,20,30,45,65,135,275,400,600,900,1300,1800],"format":".2f","labelPadding":3}},
  "y2":{"field":"h"},
  "color":{"condition":{"test":"datum.c >= datum.o","value":"#244f36"},"value":"#5e3430"}}},
{"data":{"name":"candles"},"mark":{"type":"bar","size":1.6,"clip":true},
 "encoding":{"x":{"field":"d","type":"temporal"},"y":{"field":"o","type":"quantitative"},"y2":{"field":"c"},
  "color":{"condition":{"test":"datum.c >= datum.o","value":"#2a8a48"},"value":"#c4473c"}}},
{"data":{"name":"segs"},"mark":{"type":"line","clip":true},
 "encoding":{"x":{"field":"d","type":"temporal"},"y":{"field":"v","type":"quantitative"},"detail":{"field":"g"},
  "color":{"field":"g","type":"nominal","legend":null,"scale":{"domain":["top","bot","dash","brown","zig","blue","magl","magd","mag","purp","teal1","teal2","dot","base"],"range":["#a680d8","#9d7fcb","#9786ad","#a24f49","#b4504a","#4b54d6","#e84fe8","#e84fe8","#e84fe8","#a030e0","#8fd3d8","#8fd3d8","#4262e6","#8d9c9c"]}},
  "strokeWidth":{"field":"g","type":"nominal","legend":null,"scale":{"domain":["top","bot","dash","brown","zig","blue","magl","magd","mag","purp","teal1","teal2","dot","base"],"range":[2,2,1.5,1.5,1,1.3,1.5,1.5,1.5,2.5,1.5,1.5,1.2,1.5]}},
  "strokeDash":{"field":"g","type":"nominal","legend":null,"scale":{"domain":["top","bot","dash","brown","zig","blue","magl","magd","mag","purp","teal1","teal2","dot","base"],"range":[[1,0],[1,0],[6,4],[1,0],[1,0],[1,0],[1,0],[6,4],[1,0],[1,0],[1,0],[1,0],[1.5,2.5],[1,0]]}}}},
{"data":{"name":"curve"},"mark":{"type":"line","interpolate":"monotone","color":"#222","strokeWidth":2},
 "encoding":{"x":{"field":"d","type":"temporal"},"y":{"field":"v","type":"quantitative"}}},
{"data":{"name":"meas"},"mark":{"type":"rule","color":"#6d7f96","strokeWidth":1.2,"strokeDash":[4,3]},
 "encoding":{"x":{"field":"d","type":"temporal"},"y":{"field":"v1","type":"quantitative"},"y2":{"field":"v2"}}},
{"data":{"name":"meas"},"mark":{"type":"point","shape":"M-1,1L0,0L1,1","filled":false,"size":40,"strokeWidth":1,"color":"#6d7f96"},
 "encoding":{"x":{"field":"d","type":"temporal"},"y":{"field":"v2","type":"quantitative"}}},
{"data":{"name":"meas"},"mark":{"type":"rect","color":"#6f8fc6","cornerRadius":3},
 "encoding":{"x":{"field":"ba","type":"temporal"},"x2":{"field":"bb"},"y":{"field":"blo","type":"quantitative"},"y2":{"field":"bhi"}}},
{"data":{"name":"meas"},"mark":{"type":"text","color":"white","fontSize":13,"align":"center","baseline":"middle"},
 "encoding":{"x":{"field":"bm","type":"temporal"},"y":{"field":"bv","type":"quantitative"},"text":{"field":"t"}}},
{"data":{"name":"prices"},"mark":{"type":"bar","size":14},
 "encoding":{"x":{"datum":{"year":2038,"month":6,"date":24,"utc":true},"type":"temporal"},"x2":{"datum":{"year":2040,"month":5,"date":1,"utc":true}},"y":{"field":"v","type":"quantitative"},
  "color":{"condition":{"test":"datum.k == 'b'","value":"#3c66e6"},"value":"#83d0d8"}}},
{"data":{"name":"prices"},"mark":{"type":"text","fontSize":12,"align":"center","baseline":"middle"},
 "encoding":{"x":{"datum":{"year":2039,"month":5,"date":28,"utc":true},"type":"temporal"},"y":{"field":"v","type":"quantitative"},"text":{"field":"v","format":".2f"},
  "color":{"condition":{"test":"datum.k == 'b'","value":"white"},"value":"#1d2b33"}}},
{"data":{"values":[{"t":"Investing"}]},"mark":{"type":"text","fontSize":20,"fontWeight":"bold","align":"left","baseline":"alphabetic","color":"#111"},
 "encoding":{"x":{"datum":{"year":1984,"month":5,"date":27,"utc":true},"type":"temporal"},"y":{"datum":4.17,"type":"quantitative"},"text":{"field":"t"}}},
{"data":{"values":[{"t":".com"}]},"mark":{"type":"text","fontSize":13,"align":"left","baseline":"alphabetic","color":"#555"},
 "encoding":{"x":{"datum":{"year":1988,"month":7,"date":19,"utc":true},"type":"temporal"},"y":{"datum":4.17,"type":"quantitative"},"text":{"field":"t"}}}
]
}
